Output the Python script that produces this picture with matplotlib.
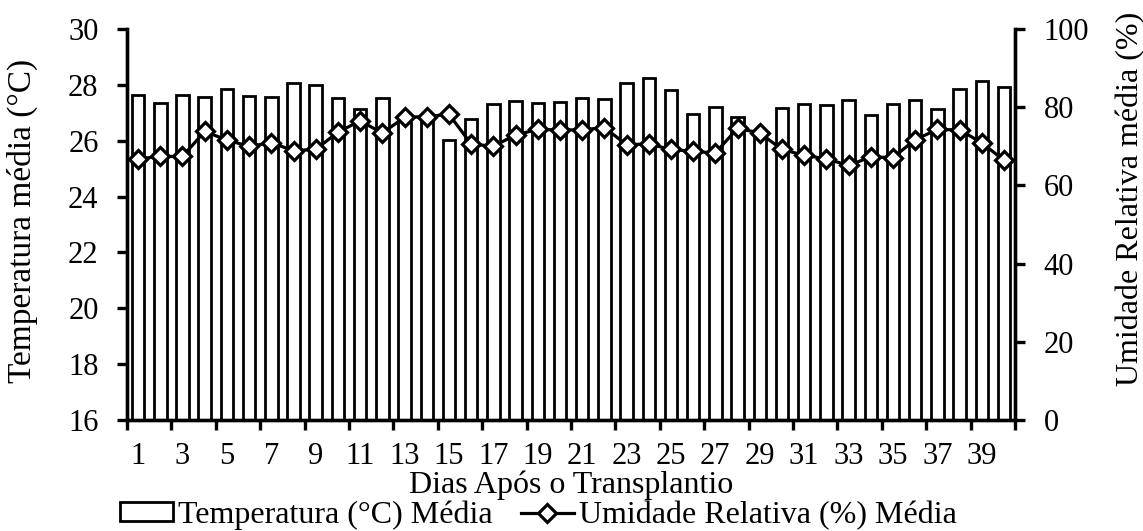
import matplotlib
matplotlib.use("Agg")
import matplotlib.pyplot as plt
from matplotlib.ticker import FixedLocator, NullFormatter, FixedFormatter

plt.rcParams['font.family'] = ['Liberation Serif', 'DejaVu Serif']

days = list(range(1, 41))
temperatura = [27.65, 27.35, 27.62, 27.56, 27.85, 27.60, 27.58, 28.05, 28.00, 27.52,
               27.15, 27.54, 26.90, 26.90, 26.03, 26.77, 27.30, 27.42, 27.34, 27.40,
               27.52, 27.50, 28.07, 28.24, 27.81, 26.95, 27.19, 26.85, 26.30, 27.16,
               27.33, 27.27, 27.47, 26.91, 27.30, 27.44, 27.15, 27.84, 28.14, 27.93]
umidade = [66.8, 67.4, 67.4, 73.8, 71.6, 70.0, 70.9, 68.9, 69.2, 73.6,
           76.5, 73.4, 77.4, 77.6, 78.2, 70.6, 70.0, 72.9, 74.3, 74.2,
           74.2, 74.8, 70.4, 70.6, 69.2, 68.7, 68.3, 74.6, 73.4, 69.2,
           67.7, 66.8, 65.1, 67.3, 67.1, 71.7, 74.3, 74.2, 70.9, 66.4]
x_labels = [str(d) for d in range(1, 41, 2)]
left_ticks = [16, 18, 20, 22, 24, 26, 28, 30]
right_ticks = [0, 20, 40, 60, 80, 100]

FS_TICK = 22
FS_LAB = 23

fig = plt.figure(figsize=(11.43, 5.31), dpi=100)
ax = fig.add_axes([0.1111, 0.209, 0.777, 0.7364])
ax2 = ax.twinx()

bars = ax.bar(days, temperatura, width=0.56, color='white', edgecolor='black',
              linewidth=2.0, label='Temperatura (°C) Média')
line, = ax2.plot(days, umidade, color='black', linewidth=2.3, marker='D',
                 markersize=9.5, markerfacecolor='white', markeredgecolor='black',
                 markeredgewidth=2.3, label='Umidade Relativa (%) Média')

ax.set_xlim(0.5, 40.5)
ax.set_ylim(16, 30)
ax2.set_ylim(0, 100)
ax.set_yticks(left_ticks)
ax2.set_yticks(right_ticks)

ax.xaxis.set_major_locator(FixedLocator([0.5 + 2 * k for k in range(21)]))
ax.xaxis.set_major_formatter(NullFormatter())
ax.xaxis.set_minor_locator(FixedLocator(list(range(1, 41, 2))))
ax.xaxis.set_minor_formatter(FixedFormatter(x_labels))
ax.tick_params(axis='x', which='major', direction='out', length=7, width=2.4)
ax.tick_params(axis='x', which='minor', length=0, pad=16, labelsize=FS_TICK)
ax.tick_params(axis='y', direction='out', length=7, width=2.4, labelsize=FS_TICK, pad=13.5)
ax2.tick_params(axis='y', direction='out', length=7, width=2.4, labelsize=FS_TICK, pad=13.5)

for a in (ax, ax2):
    a.spines['top'].set_visible(False)
    for s in ('left', 'right', 'bottom'):
        a.spines[s].set_linewidth(2.4)

ax.set_ylabel('Temperatura média (°C)', fontsize=24)
ax.yaxis.set_label_coords(-0.118, 0.51)
ax.yaxis.label.set_va('center')
ax2.set_ylabel('Umidade Relativa média (%)', fontsize=FS_LAB)
ax2.yaxis.set_label_coords(1.1295, 0.565)
ax2.yaxis.label.set_va('center')
ax.set_xlabel('Dias Após o Transplantio', fontsize=FS_LAB)
ax.xaxis.set_label_coords(0.5, -0.186)
ax.xaxis.label.set_va('baseline')

fig.legend([bars, line], ['Temperatura (°C) Média', 'Umidade Relativa (%) Média'],
           loc='center', bbox_to_anchor=(0.471, 0.03), ncol=2, frameon=False,
           fontsize=FS_LAB, handlelength=1.65, handleheight=0.5, handletextpad=0.16,
           columnspacing=0.9, borderpad=0, borderaxespad=0)

fig.savefig('out.png', dpi=100)
